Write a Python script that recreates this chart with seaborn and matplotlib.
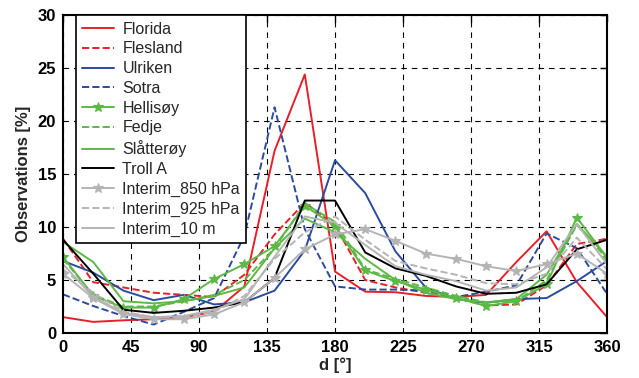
import numpy as np
import pandas as pd
import matplotlib
matplotlib.use('Agg')
import matplotlib.pyplot as plt
import seaborn as sns

# wind direction sectors (deg)
angles = [0, 20, 40, 60, 80, 100, 120, 140, 160, 180, 200, 220, 240, 260, 280, 300, 320, 340, 360]

florida = [1.5, 1.05, 1.2, 1.3, 1.5, 2.0, 4.4, 17.2, 24.4, 5.8, 3.9, 3.85, 3.5, 3.4, 3.6, 6.7, 9.6, 4.8, 1.5]
flesland = [8.9, 4.8, 4.3, 3.8, 3.6, 3.4, 5.5, 9.3, 12.3, 10.2, 5.0, 4.3, 3.8, 3.3, 2.6, 2.7, 4.5, 8.4, 8.9]
ulriken = [6.8, 5.7, 4.0, 3.1, 3.6, 2.7, 2.9, 4.0, 7.8, 16.3, 13.2, 7.7, 4.3, 3.2, 2.85, 3.2, 3.3, 4.9, 6.8]
sotra = [3.65, 2.55, 1.6, 0.8, 2.0, 3.3, 9.2, 21.3, 9.8, 4.4, 4.1, 4.1, 4.0, 3.4, 3.9, 4.5, 9.4, 8.0, 3.7]
hellisoy = [7.2, 3.5, 2.4, 2.4, 3.2, 5.1, 6.5, 8.2, 12.0, 10.1, 5.9, 4.9, 4.1, 3.3, 2.55, 3.0, 4.6, 10.9, 7.1]
fedje = [7.0, 3.6, 2.5, 2.5, 3.0, 3.6, 5.0, 8.0, 12.2, 10.5, 6.0, 5.1, 4.3, 3.5, 2.9, 3.0, 5.0, 10.2, 7.0]
slatteroy = [8.6, 6.7, 3.0, 2.8, 3.0, 3.5, 4.3, 8.0, 10.8, 9.5, 7.0, 5.0, 3.8, 3.2, 2.9, 3.2, 5.5, 10.3, 7.2]
troll_a = [8.8, 5.6, 2.2, 1.9, 2.1, 2.4, 2.9, 5.2, 12.5, 12.5, 7.6, 6.1, 5.4, 4.4, 3.7, 3.8, 4.6, 7.9, 8.8]
interim_850 = [5.6, 3.3, 1.8, 1.3, 1.3, 1.76, 2.9, 5.2, 7.9, 9.3, 9.8, 8.7, 7.5, 7.0, 6.3, 5.85, 6.5, 7.5, 5.6]
interim_925 = [6.0, 3.8, 2.0, 1.5, 1.5, 2.0, 3.5, 7.0, 9.5, 11.0, 8.8, 6.8, 6.1, 5.5, 4.7, 4.6, 5.6, 9.0, 6.0]
interim_10 = [6.5, 3.4, 1.9, 1.5, 1.6, 2.2, 3.2, 7.2, 11.0, 10.4, 8.3, 6.3, 5.5, 4.9, 4.0, 4.3, 6.2, 10.3, 6.5]

red = '#e8202a'
blue = '#2a4b9e'
green = '#5cb944'
grey = '#b4b4b4'

# label, values, colour, linestyle, marker
series = [
    ('Florida', florida, red, '-', None),
    ('Flesland', flesland, red, '--', None),
    ('Ulriken', ulriken, blue, '-', None),
    ('Sotra', sotra, blue, '--', None),
    ('Hellisøy', hellisoy, green, '-', '*'),
    ('Fedje', fedje, green, '--', None),
    ('Slåtterøy', slatteroy, green, '-', None),
    ('Troll A', troll_a, 'black', '-', None),
    ('Interim_850 hPa', interim_850, grey, '-', '*'),
    ('Interim_925 hPa', interim_925, grey, '--', None),
    ('Interim_10 m', interim_10, grey, '-', None),
]

sns.set_style('white')
plt.rcParams['font.family'] = ['Liberation Sans', 'DejaVu Sans']

fig = plt.figure(figsize=(6.39, 3.78), dpi=100)
ax = fig.add_axes([0.0986, 0.119, 0.8514, 0.841])

for name, vals, col, ls, mk in series:
    df = pd.DataFrame({'d': angles, 'obs': vals})
    kw = dict(linestyle=ls, linewidth=1.4, color=col, label=name)
    if ls == '--':
        kw['dashes'] = (5, 3.5)
    if mk:
        kw.update(marker=mk, markersize=7.5, markeredgewidth=0.8, markeredgecolor=col)
    sns.lineplot(data=df, x='d', y='obs', ax=ax, **kw)

ax.set_xlim(0, 360)
ax.set_ylim(0, 30)
ax.set_xticks(np.arange(0, 361, 45))
ax.set_yticks(np.arange(0, 31, 5))
ax.grid(True, color='black', linestyle=(0, (5, 4.5)), linewidth=0.8)
ax.tick_params(direction='in', length=5, width=1, top=True, right=True,
               labelsize=12, colors='black', pad=5)
for lab in ax.get_xticklabels() + ax.get_yticklabels():
    lab.set_fontweight('bold')
for sp in ax.spines.values():
    sp.set_color('black')
    sp.set_linewidth(1.5)

ax.set_xlabel('d [°]', fontsize=12, fontweight='bold', labelpad=2)
ax.set_ylabel('Observations [%]', fontsize=12, fontweight='bold', labelpad=5)

leg = ax.legend(loc='upper left', bbox_to_anchor=(0.024, 1.0), fontsize=11.5,
                frameon=True, fancybox=False, borderaxespad=0, handlelength=2.0,
                handletextpad=0.5, labelspacing=0.3, borderpad=0.4)
leg.get_frame().set_edgecolor('black')
leg.get_frame().set_linewidth(1.2)
leg.get_frame().set_alpha(1)

fig.savefig('out.png', dpi=100)
